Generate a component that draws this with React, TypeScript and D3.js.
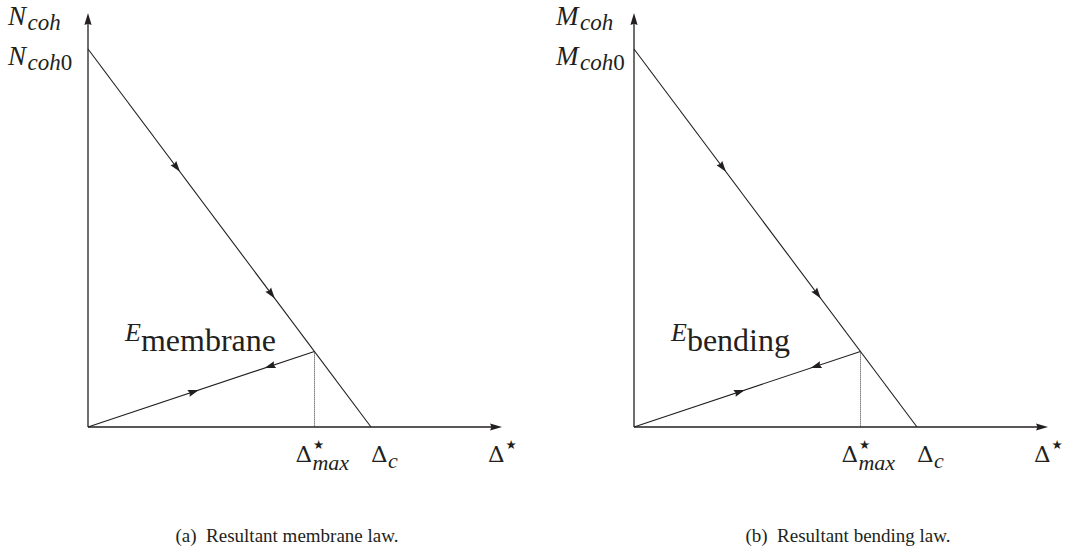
import React from "react";
import * as d3 from "d3";

// Normalised cohesive law: resultant vs. opening Δ*
const softeningLaw = [
  { d: 0, f: 1 },
  { d: 1, f: 0 },
];
const unloadPath = [
  { d: 0, f: 0 },
  { d: 0.8, f: 0.2 },
];
const deltaMax = 0.8;
const deltaC = 1.0;
const axisExtentX = 1.463;
const axisExtentY = 1.095;

// fractions along each segment where direction arrows sit
const softeningArrows = [0.325, 0.66];
const reloadArrows = [0.49];
const unloadArrows = [0.78];

const panelOrigins = [88, 634];
const panelNames = ["membrane", "bending"];
const panelSymbols = ["N", "M"];
const captions = ["(a)\u2002Resultant membrane law.", "(b)\u2002Resultant bending law."];

const W = 1067;
const H = 554;
const OY = 427;
const FONT = '"Liberation Serif", "Times New Roman", Times, serif';
const GREEK = '"DejaVu Serif", "Liberation Serif", serif';
const SYM = '"DejaVu Sans", sans-serif';
const INK = "#231f20";

const x = d3.scaleLinear().domain([0, 1]).range([0, 283]);
const y = d3.scaleLinear().domain([0, 1]).range([0, -378]);

type Pt = { d: number; f: number };

function arrowAt(a: Pt, b: Pt, t: number, reverse: boolean, len = 11, hw = 3.6) {
  const x0 = x(a.d), y0 = y(a.f), x1 = x(b.d), y1 = y(b.f);
  const px = x0 + (x1 - x0) * t;
  const py = y0 + (y1 - y0) * t;
  let ang = Math.atan2(y1 - y0, x1 - x0);
  if (reverse) ang += Math.PI;
  const ux = Math.cos(ang), uy = Math.sin(ang);
  const bx = px - ux * len, by = py - uy * len;
  const nx = -uy, ny = ux;
  const cx = px - ux * len * 0.88, cy = py - uy * len * 0.88;
  return `M${px},${py}L${bx + nx * hw},${by + ny * hw}L${cx},${cy}L${bx - nx * hw},${by - ny * hw}Z`;
}

const fs = (size: number, italic = false, family = FONT): React.CSSProperties => ({
  fontFamily: family,
  fontSize: `${size}px`,
  fontStyle: italic ? "italic" : "normal",
});

function DeltaLabel({ x0, star, sub }: { x0: number; star: boolean; sub?: string }) {
  const by = 462 - OY;
  return (
    <g>
      <text x={x0} y={by} style={fs(23, false, GREEK)}>Δ</text>
      {star && (
        <text x={x0 + 17.5} y={by - 13} style={fs(12.5, false, SYM)}>★</text>
      )}
      {sub && (
        <text x={x0 + 17} y={by + (sub.length > 1 ? 8 : 6)} style={fs(22, true)}>
          {sub}
        </text>
      )}
    </g>
  );
}

function Panel({ ox, idx }: { ox: number; idx: number }) {
  const line = d3
    .line<Pt>()
    .x((p) => x(p.d))
    .y((p) => y(p.f));
  const xEnd = x(axisExtentX);
  const yEnd = y(axisExtentY);
  const sym = panelSymbols[idx];
  const name = panelNames[idx];
  const peakX = Math.round(x(deltaMax)) + 0.5;
  const peakY = y(1 - deltaMax / deltaC);
  const a0: Pt = { d: 0, f: 0 };
  const lx = idx ? -78 : -80;
  return (
    <g transform={`translate(${ox},${OY})`} fill={INK}>
      {/* axes */}
      <line x1={0} y1={0} x2={xEnd - 8} y2={0} stroke={INK} strokeWidth={1.3} />
      <line x1={0} y1={0} x2={0} y2={yEnd + 8} stroke={INK} strokeWidth={1.3} />
      <path d={arrowAt(a0, { d: axisExtentX, f: 0 }, 1, false, 12, 3.6)} fill={INK} />
      <path d={arrowAt(a0, { d: 0, f: axisExtentY }, 1, false, 12, 3.6)} fill={INK} />

      {/* softening branch */}
      <path d={line(softeningLaw) || ""} fill="none" stroke={INK} strokeWidth={1.1} />
      {softeningArrows.map((t, i) => (
        <path key={"s" + i} d={arrowAt(softeningLaw[0], softeningLaw[1], t, false)} fill={INK} />
      ))}

      {/* unloading / reloading path */}
      <path d={line(unloadPath) || ""} fill="none" stroke={INK} strokeWidth={1.1} />
      {reloadArrows.map((t, i) => (
        <path key={"r" + i} d={arrowAt(unloadPath[0], unloadPath[1], t, false)} fill={INK} />
      ))}
      {unloadArrows.map((t, i) => (
        <path key={"u" + i} d={arrowAt(unloadPath[0], unloadPath[1], t, true)} fill={INK} />
      ))}

      {/* max opening marker */}
      <line x1={peakX} y1={peakY} x2={peakX} y2={0} stroke="#333" strokeWidth={1} strokeDasharray="1,1" />

      {/* y-axis labels */}
      <text x={lx} y={25 - OY} style={fs(27, true)}>
        {sym}
        <tspan dx={1.5} dy={5} style={fs(23, true)}>coh</tspan>
      </text>
      <text x={lx} y={65 - OY} style={fs(27, true)}>
        {sym}
        <tspan dx={1.5} dy={5} style={fs(23, true)}>coh</tspan>
        <tspan style={fs(23)}>0</tspan>
      </text>

      {/* energy label */}
      <text x={37} y={341 - OY} style={fs(26, true)}>
        E
        <tspan dx={0} dy={10} style={fs(32)}>{name}</tspan>
      </text>

      {/* x-axis labels */}
      <DeltaLabel x0={x(deltaMax) - 19} star sub="max" />
      <DeltaLabel x0={x(deltaC)} star={false} sub="c" />
      <DeltaLabel x0={x(axisExtentX) - 14} star />
    </g>
  );
}

export default function App() {
  return (
    <svg
      width={W}
      height={H}
      style={{ position: "absolute", left: 0, top: 0, background: "#fff" }}
    >
      {panelOrigins.map((ox, i) => (
        <Panel key={i} ox={ox} idx={i} />
      ))}
      {captions.map((c, i) => (
        <text
          key={"c" + i}
          x={[287, 848][i]}
          y={542}
          textAnchor="middle"
          style={fs(19)}
          fill={INK}
        >
          {c}
        </text>
      ))}
    </svg>
  );
}
